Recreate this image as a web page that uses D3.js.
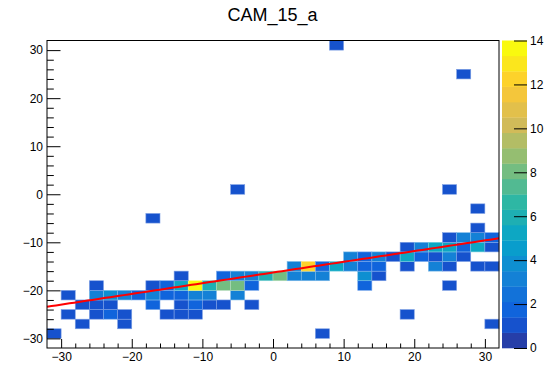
<!DOCTYPE html>
<html>
<head>
<meta charset="utf-8">
<script src="https://cdn.jsdelivr.net/npm/d3@7"></script>
<style>
  html, body { margin: 0; padding: 0; background: #fff; }
  svg { display: block; }
  text { font-family: "Liberation Sans", Arial, Helvetica, sans-serif; fill: #000; }
</style>
</head>
<body>
<svg id="chart" width="554" height="368"></svg>
<script>
// ---------------- data ----------------
const title = "CAM_15_a";
const xDomain = [-32, 32];
const yDomain = [-32, 32];
const binWidth = 2;            // bin width in x and y
const zRange = [0, 14];        // colour scale range
const nLevels = 20;            // contour levels of the palette

// bin centres (x, y) and contents
const cellX = [
  -31, 7,
  -27, -21, 31,
  -29, -25, -23, -21, -15, -13, -11, 19,
  -27, -25, -23, -17, -13, -11, -9, -7, -3,
  -29, -25, -23, -21, -19, -17, -15, -13, -11, -9, -5,
  -25, -17, -15, -13, -11, -9, -7, -5, -3, 13, 25,
  -13, -7, -5, -3, -1, 1, 3, 5, 7, 13, 15,
  3, 5, 7, 9, 11, 13, 15, 19, 23, 25, 29, 31,
  11, 13, 15, 17, 19, 21, 23, 25, 27,
  19, 21, 23, 25, 27, 29, 31,
  25, 27, 29, 31,
  29,
  -17,
  29,
  -5, 25,
  27,
  9
];
const cellY = [
  -29, -29,
  -27, -27, -27,
  -25, -25, -25, -25, -25, -25, -25, -25,
  -23, -23, -23, -23, -23, -23, -23, -23, -23,
  -21, -21, -21, -21, -21, -21, -21, -21, -21, -21, -21,
  -19, -19, -19, -19, -19, -19, -19, -19, -19, -19, -19,
  -17, -17, -17, -17, -17, -17, -17, -17, -17, -17, -17,
  -15, -15, -15, -15, -15, -15, -15, -15, -15, -15, -15, -15,
  -13, -13, -13, -13, -13, -13, -13, -13, -13,
  -11, -11, -11, -11, -11, -11, -11,
  -9, -9, -9, -9,
  -7,
  -5,
  -3,
  1, 1,
  25,
  31
];
const cellCount = [
  1, 1,
  1, 1, 1,
  1, 1, 2, 1, 1, 1, 1, 1,
  1, 1, 1, 2, 1, 2, 1, 1, 1,
  1, 3, 4, 3, 2, 3, 2, 2, 3, 3, 3,
  1, 1, 2, 5, 14, 6, 8, 8, 2, 2, 1,
  1, 2, 3, 3, 6, 8, 3, 3, 3, 4, 1,
  3, 12, 2, 5, 3, 2, 2, 1, 3, 1, 1, 1,
  3, 2, 3, 1, 5, 2, 1, 3, 1,
  1, 3, 5, 5, 2, 5, 1,
  1, 3, 3, 2,
  1,
  1,
  1,
  1, 1,
  1,
  1
];

// linear fit  y = p0 + p1 * x
const fitParams = [-16.29, 0.2227];

const xTickValues = [-30, -20, -10, 0, 10, 20, 30];
const yTickValues = [-30, -20, -10, 0, 10, 20, 30];
const zTickValues = [0, 2, 4, 6, 8, 10, 12, 14];

// kBird palette definition (ROOT)
const birdStops = [0.0, 0.125, 0.25, 0.375, 0.5, 0.625, 0.75, 0.875, 1.0];
const birdRed   = [0.2082, 0.0592, 0.0780, 0.0232, 0.1802, 0.5301, 0.8186, 0.9956, 0.9764];
const birdGreen = [0.1664, 0.3599, 0.5041, 0.6419, 0.7178, 0.7492, 0.7328, 0.7862, 0.9832];
const birdBlue  = [0.5293, 0.8684, 0.8385, 0.7914, 0.6425, 0.4662, 0.3499, 0.1968, 0.0539];

// ---------------- palette ----------------
const nColors = 255;
const paletteTable = [];
for (let g = 1; g < birdStops.length; g++) {
  const n = Math.floor(nColors * birdStops[g]) - Math.floor(nColors * birdStops[g - 1]);
  for (let c = 0; c < n; c++) {
    const r = birdRed[g - 1] + c * (birdRed[g] - birdRed[g - 1]) / n;
    const gg = birdGreen[g - 1] + c * (birdGreen[g] - birdGreen[g - 1]) / n;
    const b = birdBlue[g - 1] + c * (birdBlue[g] - birdBlue[g - 1]) / n;
    paletteTable.push(d3.rgb(r * 255, gg * 255, b * 255).formatHex());
  }
}
function levelColorIndex(i) { return Math.floor((i + 0.99) * nColors / nLevels); }
function zColor(z) {
  if (z >= zRange[1]) return paletteTable[nColors - 1];
  const lvl = Math.floor(0.01 + (z - zRange[0]) * nLevels / (zRange[1] - zRange[0]));
  return paletteTable[Math.min(nColors - 1, levelColorIndex(lvl))];
}

// ---------------- layout ----------------
const frame = { left: 47, right: 499, top: 40.5, bottom: 348 };
const pal = { left: 502, right: 527 };

const svg = d3.select("#chart");
svg.append("rect").attr("width", 554).attr("height", 368).attr("fill", "#fff");

const x = d3.scaleLinear().domain(xDomain).range([frame.left, frame.right]);
const y = d3.scaleLinear().domain(yDomain).range([frame.bottom, frame.top]);
const z = d3.scaleLinear().domain(zRange).range([frame.bottom, frame.top]);

// cells
const cells = cellX.map((cx, i) => ({ x: cx, y: cellY[i], v: cellCount[i] }));
svg.append("g").selectAll("rect").data(cells).join("rect")
  .attr("x", d => x(d.x - binWidth / 2))
  .attr("y", d => y(d.y + binWidth / 2))
  .attr("width", d => x(d.x + binWidth / 2) - x(d.x - binWidth / 2))
  .attr("height", d => y(d.y - binWidth / 2) - y(d.y + binWidth / 2))
  .attr("fill", d => zColor(d.v))
  .attr("stroke", d => d3.interpolateRgb(zColor(d.v), "#ffffff")(0.45))
  .attr("stroke-width", 0.6);

// fit line
const fitPts = d3.range(0, 101).map(i => {
  const xv = xDomain[0] + i * (xDomain[1] - xDomain[0]) / 100;
  return [xv, fitParams[0] + fitParams[1] * xv];
});
svg.append("path")
  .datum(fitPts)
  .attr("fill", "none")
  .attr("stroke", "#ff0000")
  .attr("stroke-width", 2)
  .attr("d", d3.line().x(d => x(d[0])).y(d => y(d[1])));

// axes
const minorX = d3.range(-30, 31, 2);
const minorY = d3.range(-30, 31, 2);

const gx = svg.append("g").attr("transform", `translate(0,${frame.bottom})`);
gx.call(d3.axisBottom(x).tickValues(minorX.filter(v => v % 10 !== 0)).tickSizeInner(-4.5).tickSizeOuter(0).tickFormat(""));
gx.append("g").call(d3.axisBottom(x).tickValues(xTickValues).tickSizeInner(-9).tickSizeOuter(0).tickPadding(4)
  .tickFormat(d => d < 0 ? "\u2212" + Math.abs(d) : String(d)));

const gy = svg.append("g").attr("transform", `translate(${frame.left},0)`);
gy.call(d3.axisLeft(y).tickValues(minorY.filter(v => v % 10 !== 0)).tickSizeInner(-6.8).tickSizeOuter(0).tickFormat(""));
gy.append("g").call(d3.axisLeft(y).tickValues(yTickValues).tickSizeInner(-13.5).tickSizeOuter(0).tickPadding(4)
  .tickFormat(d => d < 0 ? "\u2212" + Math.abs(d) : String(d)));

svg.selectAll(".domain").remove();
svg.selectAll(".tick line").attr("stroke", "#000").attr("stroke-width", 1);
svg.selectAll(".tick text").attr("font-size", 12).attr("font-family", "'Liberation Sans', Arial, sans-serif").attr("fill", "#000");

// frame
svg.append("rect")
  .attr("x", frame.left).attr("y", frame.top)
  .attr("width", frame.right - frame.left).attr("height", frame.bottom - frame.top)
  .attr("fill", "none").attr("stroke", "#000").attr("stroke-width", 1);

// palette
const levelStep = (zRange[1] - zRange[0]) / nLevels;
const bands = d3.range(nLevels).map(i => ({ lo: zRange[0] + i * levelStep, hi: zRange[0] + (i + 1) * levelStep, c: paletteTable[levelColorIndex(i)] }));
svg.append("g").selectAll("rect").data(bands).join("rect")
  .attr("x", pal.left).attr("width", pal.right - pal.left)
  .attr("y", d => z(d.hi)).attr("height", d => z(d.lo) - z(d.hi) + 0.3)
  .attr("fill", d => d.c);

const gz = svg.append("g").attr("transform", `translate(${pal.right},0)`);
gz.call(d3.axisRight(z).tickValues(zTickValues).tickSizeInner(-13).tickSizeOuter(0).tickPadding(3).tickFormat(d3.format("d")));
gz.select(".domain").remove();
gz.selectAll(".tick line").attr("stroke", "#000");
gz.selectAll(".tick text").attr("font-size", 12).attr("font-family", "'Liberation Sans', Arial, sans-serif").attr("fill", "#000");

// title
svg.append("text")
  .attr("x", 272.5).attr("y", 21)
  .attr("text-anchor", "middle")
  .attr("font-size", 18)
  .text(title);
</script>
</body>
</html>
